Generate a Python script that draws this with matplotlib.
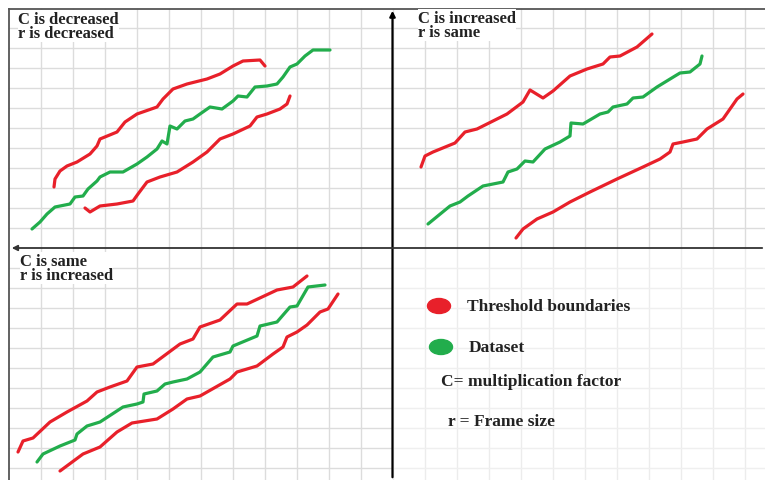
import matplotlib.pyplot as plt
from matplotlib.patches import Ellipse

RED = '#e8202a'
GREEN = '#22ad4c'

# curves, (x, y) in sheet pixels, y downwards
tl_red_upper = [(54, 188), (55, 180), (60, 172), (67, 167), (77, 163), (90, 155), (97, 147),
                (100, 140), (117, 133), (125, 123), (137, 115), (157, 108), (163, 100),
                (173, 90), (187, 85), (207, 80), (220, 75), (233, 67), (243, 62), (260, 61),
                (265, 67)]
tl_green = [(32, 230), (40, 223), (47, 215), (55, 208), (70, 205), (75, 198), (83, 197),
            (88, 190), (97, 182), (100, 178), (110, 173), (123, 173), (137, 165), (147, 158),
            (157, 150), (162, 142), (167, 145), (170, 127), (177, 130), (185, 122), (193, 120),
            (200, 115), (210, 108), (222, 110), (233, 102), (238, 97), (247, 98), (255, 88),
            (267, 87), (277, 85), (283, 78), (290, 68), (297, 65), (305, 57), (313, 51),
            (330, 51)]
tl_red_lower = [(85, 209), (90, 213), (100, 207), (117, 205), (133, 202), (138, 195),
                (147, 183), (160, 178), (177, 173), (193, 163), (207, 153), (220, 140),
                (233, 135), (250, 127), (257, 118), (267, 115), (280, 110), (287, 105),
                (290, 97)]

tr_red_upper = [(421, 168), (425, 157), (433, 153), (455, 144), (465, 133), (477, 130),
                (507, 115), (523, 103), (530, 91), (543, 99), (553, 92), (570, 77),
                (587, 70), (603, 65), (610, 58), (620, 57), (637, 48), (652, 35)]
tr_green = [(428, 225), (450, 207), (460, 203), (468, 197), (483, 187), (503, 183),
            (508, 173), (517, 170), (525, 162), (533, 163), (545, 150), (560, 143),
            (570, 137), (571, 124), (583, 125), (600, 115), (608, 113), (613, 108),
            (627, 105), (633, 99), (643, 98), (657, 88), (675, 77), (680, 74), (690, 73),
            (700, 65), (702, 57)]
tr_red_lower = [(516, 239), (523, 230), (537, 220), (553, 213), (570, 203), (590, 193),
                (617, 180), (643, 168), (660, 160), (670, 153), (673, 145), (683, 143),
                (697, 140), (707, 130), (723, 120), (730, 110), (737, 100), (743, 95)]

bl_red_upper = [(18, 453), (23, 442), (33, 439), (50, 423), (67, 413), (87, 402), (97, 393),
                (110, 388), (127, 382), (137, 368), (153, 365), (180, 345), (193, 340),
                (200, 328), (220, 321), (237, 305), (247, 305), (277, 291), (293, 288),
                (307, 277)]
bl_green = [(37, 463), (43, 455), (60, 447), (75, 441), (77, 435), (87, 427), (100, 423),
            (123, 408), (137, 405), (143, 403), (144, 395), (157, 392), (165, 385),
            (173, 383), (187, 380), (200, 373), (213, 358), (230, 353), (233, 347),
            (257, 337), (260, 327), (277, 323), (290, 308), (297, 307), (308, 288),
            (325, 286)]
bl_red_lower = [(60, 472), (83, 455), (100, 448), (117, 433), (132, 424), (157, 420),
                (173, 410), (187, 400), (200, 397), (230, 380), (237, 373), (257, 367),
                (273, 355), (283, 348), (287, 338), (297, 333), (307, 326), (320, 313),
                (328, 310), (338, 295)]

panel_titles = [("C is decreased\nr is decreased", 18, 27),
                ("C is increased\nr is same", 418, 26),
                ("C is same\nr is increased", 20, 269)]

legend_items = [("Threshold boundaries", RED, 439, 307),
                ("Dataset", GREEN, 441, 348)]
notes = [("C= multiplication factor", 441, 382),
         ("r = Frame size", 448, 422)]

fig = plt.figure(figsize=(7.65, 4.81), dpi=100)
ax = fig.add_axes([0, 0, 1, 1])
ax.set_xlim(0, 765)
ax.set_ylim(481, 0)
ax.axis('off')

# graph paper
for k in range(1, 24):
    x = 8.7 + 32 * k
    ax.plot([x, x], [10, 249], color='#dcdcdc', lw=1.0, zorder=0)
    ax.plot([x, x], [249, 481], color='#dcdcdc' if x < 392 else '#ececec', lw=1.0, zorder=0)
for k in range(1, 24):
    y = 9.3 + 20 * k
    if y < 249:
        ax.plot([8.7, 765], [y, y], color='#dcdcdc', lw=1.0, zorder=0)
    elif y > 250:
        ax.plot([8.7, 392], [y, y], color='#dcdcdc', lw=1.0, zorder=0)
        ax.plot([392, 765], [y, y], color='#efefef', lw=1.0, zorder=0)

ax.plot([8.7, 765], [10, 10], color='#555555', lw=1.3, zorder=1)
ax.plot([8.7, 8.7], [10, 481], color='#555555', lw=1.3, zorder=1)
ax.annotate('', xy=(392.5, 9), xytext=(392.5, 481),
            arrowprops=dict(arrowstyle='-|>', color='black', lw=1.6, mutation_scale=8))
ax.annotate('', xy=(9, 249), xytext=(765, 249),
            arrowprops=dict(arrowstyle='-|>', color='#333333', lw=1.3, mutation_scale=8))

for pts, col in [(tl_red_upper, RED), (tl_green, GREEN), (tl_red_lower, RED),
                 (tr_red_upper, RED), (tr_green, GREEN), (tr_red_lower, RED),
                 (bl_red_upper, RED), (bl_green, GREEN), (bl_red_lower, RED)]:
    xs = [p[0] for p in pts]
    ys = [p[1] for p in pts]
    ax.plot(xs, ys, color=col, lw=2.3, solid_capstyle='round', solid_joinstyle='round', zorder=3)

for txt, x, y in panel_titles:
    ax.text(x, y, txt, family='Liberation Serif', fontweight='bold', fontsize=12,
            va='center', ha='left', linespacing=0.9, color='#222222', zorder=4,
            bbox=dict(facecolor='white', edgecolor='none', pad=0.3))

for txt, col, x, y in legend_items:
    ax.add_patch(Ellipse((x, y), 23, 15, color=col, zorder=3))
    ax.text(x + 28, y, txt, family='Liberation Serif', fontweight='bold', fontsize=12.5,
            va='center', ha='left', color='#222222', zorder=4)
for txt, x, y in notes:
    ax.text(x, y, txt, family='Liberation Serif', fontweight='bold', fontsize=12.5,
            va='center', ha='left', color='#222222', zorder=4)

fig.savefig('out.png', dpi=100)
